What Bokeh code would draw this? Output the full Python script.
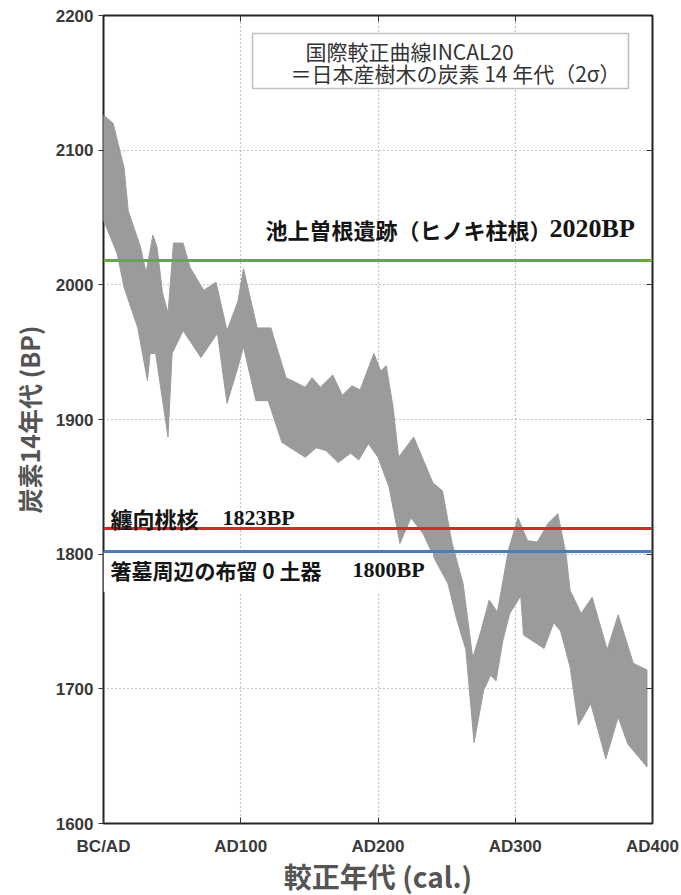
from bokeh.plotting import figure
from bokeh.models import Range1d, FixedTicker, LinearAxis, Span, Label, BoxAnnotation, Title
from bokeh.embed import file_html
from bokeh.resources import INLINE

# --- calibration band (INTCAL20, Japanese trees, 2 sigma) ---
upper_x = [0, 7, 15, 18, 27, 31, 36, 39, 43, 47, 51, 58, 63, 73, 82, 90, 98, 102,
           112, 122, 133, 147, 152, 158, 167, 174, 181, 187, 197, 202, 206, 211, 215,
           226, 240, 247, 254, 262, 269, 275, 281, 287, 295, 302, 309, 316, 324, 331,
           337, 340, 348, 356, 367, 375, 386, 396]
upper_y = [2126, 2120, 2087, 2055, 2028, 2009, 2037, 2028, 1994, 1979, 2031, 2031, 2013,
           1996, 2002, 1966, 1988, 2012, 1968, 1968, 1931, 1924, 1931, 1924, 1933, 1918,
           1925, 1922, 1949, 1936, 1940, 1909, 1872, 1887, 1853, 1847, 1808, 1778, 1723,
           1743, 1766, 1757, 1803, 1827, 1810, 1809, 1823, 1830, 1800, 1773, 1756, 1768,
           1729, 1755, 1719, 1714]
lower_x = [0, 10, 15, 25, 32, 34, 38, 47, 50, 58, 71, 83, 90, 98, 102, 111, 120, 130,
           147, 155, 162, 171, 180, 186, 193, 200, 208, 216, 224, 233, 242, 251, 257,
           264, 270, 277, 282, 286, 291, 296, 304, 306, 321, 328, 333, 340, 346, 355,
           366, 375, 382, 396]
lower_y = [2048, 2023, 1998, 1968, 1929, 1949, 1949, 1887, 1949, 1966, 1946, 1964, 1912,
           1939, 1954, 1914, 1914, 1883, 1872, 1879, 1877, 1868, 1875, 1870, 1882, 1872,
           1850, 1808, 1827, 1815, 1795, 1778, 1753, 1729, 1660, 1699, 1710, 1706, 1736,
           1756, 1769, 1740, 1730, 1749, 1743, 1716, 1673, 1689, 1648, 1679, 1659, 1642]

# --- axes ---
y_ticks = [1600, 1700, 1800, 1900, 2000, 2100, 2200]
x_ticks = [0, 100, 200, 300, 400]
x_tick_labels = ["BC/AD", "AD100", "AD200", "AD300", "AD400"]
x_title = "較正年代 (cal.)"
y_title = "炭素14年代 (BP)"

# --- reference samples (horizontal lines) ---
ref_values = [2018, 1819, 1802]
ref_names = ["池上曽根遺跡（ヒノキ柱根）", "纏向桃核", "箸墓周辺の布留 0 土器"]
ref_bp = ["2020BP", "1823BP", "1800BP"]
ref_colors = ["#6aa83c", "#d42a2a", "#4a7bc4"]

legend_lines = ["国際較正曲線INCAL20", "＝日本産樹木の炭素 14 年代（2σ）"]

CJK = "Noto Sans CJK JP"
SERIF = "Liberation Serif"
SANS = "Liberation Sans"

p = figure(width=681, height=895, x_range=Range1d(0, 400), y_range=Range1d(1600, 2200),
           output_backend="svg", toolbar_location=None,
           min_border_left=103, min_border_right=29, min_border_top=15, min_border_bottom=72,
           background_fill_color="white", border_fill_color="white")
p.outline_line_color = "#222222"
p.outline_line_width = 2

# left axis
p.yaxis.ticker = FixedTicker(ticks=y_ticks)
p.yaxis.major_tick_out = 5
p.yaxis.major_tick_in = 0
p.yaxis.minor_tick_line_color = None
p.yaxis.axis_line_color = None
p.yaxis.major_tick_line_color = "#333333"
p.yaxis.major_label_standoff = 5
p.yaxis.major_label_text_font = SANS
p.yaxis.major_label_text_font_style = "bold"
p.yaxis.major_label_text_font_size = "17px"
p.yaxis.major_label_text_color = "#3a3a3a"

# bottom axis
p.xaxis.ticker = FixedTicker(ticks=x_ticks)
p.xaxis.major_label_overrides = {t: l for t, l in zip(x_ticks, x_tick_labels)}
p.xaxis.major_tick_out = 0
p.xaxis.major_tick_in = 6
p.xaxis.minor_tick_line_color = None
p.xaxis.axis_line_color = None
p.xaxis.major_tick_line_color = "#333333"
p.xaxis.major_label_standoff = 13
p.xaxis.major_label_text_font = SANS
p.xaxis.major_label_text_font_style = "bold"
p.xaxis.major_label_text_font_size = "17px"
p.xaxis.major_label_text_color = "#3a3a3a"

# top & right axes: inward ticks only, no labels
top_ticks = x_ticks[1:-1]
right_ticks = y_ticks[1:-1]
top = LinearAxis(ticker=FixedTicker(ticks=top_ticks), major_tick_in=6, major_tick_out=0,
                 minor_tick_line_color=None, axis_line_color=None,
                 major_label_overrides={t: "" for t in top_ticks},
                 major_label_standoff=0, major_tick_line_color="#333333")
right = LinearAxis(ticker=FixedTicker(ticks=right_ticks), major_tick_in=6, major_tick_out=0,
                   minor_tick_line_color=None, axis_line_color=None,
                   major_label_overrides={t: "" for t in right_ticks},
                   major_label_standoff=0, major_tick_line_color="#333333")
p.add_layout(top, "above")
p.add_layout(right, "right")

# axis titles as outer titles
p.add_layout(Title(text=x_title, align="center", offset=-13, standoff=-9,
                   text_font=CJK, text_font_style="bold", text_font_size="28px",
                   text_color="#555555"), "below")
p.add_layout(Title(text=y_title, align="center", offset=-16, standoff=12,
                   text_font=CJK, text_font_style="bold", text_font_size="25px",
                   text_color="#555555"), "left")

# dotted grid
p.xgrid.ticker = FixedTicker(ticks=top_ticks)
p.ygrid.ticker = FixedTicker(ticks=right_ticks)
for g in (p.xgrid, p.ygrid):
    g.grid_line_color = "#8a8a8a"
    g.grid_line_dash = "1 3"
    g.grid_line_width = 1.2

# band
p.patch(x=upper_x + lower_x[::-1], y=upper_y + lower_y[::-1],
        fill_color="#9b9b9b", line_color="#9b9b9b", line_width=1)

# white mask behind lowest label
p.add_layout(BoxAnnotation(left=0, right=240, top=ref_values[2], bottom=1772,
                           fill_color="white", fill_alpha=1, line_color=None))

# horizontal reference lines
for v, c in zip(ref_values, ref_colors):
    p.add_layout(Span(location=v, dimension="width", line_color=c, line_width=3))

# legend box
p.add_layout(BoxAnnotation(left=108.6, right=382.5, top=2186.6, bottom=2145.8,
                           fill_color="white", fill_alpha=1, line_color="#333333", line_width=1.6))
p.add_layout(Label(x=147.2, y=2174, text=legend_lines[0], text_font=CJK, text_font_size="21px",
                   text_baseline="middle", text_color="#333333"))
p.add_layout(Label(x=136.2, y=2157, text=legend_lines[1], text_font=CJK, text_font_size="21px",
                   text_baseline="middle", text_color="#333333"))

# reference labels: (name x, y, BP x, name size, BP size)
label_pos = [(118, 2041.8, 325, 22, 26), (5.1, 1827.2, 86.7, 22, 22), (5.1, 1788.6, 181.4, 21, 22)]
for (xn, yl, xb, fs, fb), name, bp in zip(label_pos, ref_names, ref_bp):
    p.add_layout(Label(x=xn, y=yl, text=name, text_font=CJK, text_font_style="bold",
                       text_font_size=f"{fs}px", text_baseline="middle", text_color="#151515"))
    p.add_layout(Label(x=xb, y=yl, text=bp, text_font=SERIF, text_font_style="bold",
                       text_font_size=f"{fb}px", text_baseline="middle", text_color="#151515"))

open("out.html", "w").write(file_html(p, INLINE))
